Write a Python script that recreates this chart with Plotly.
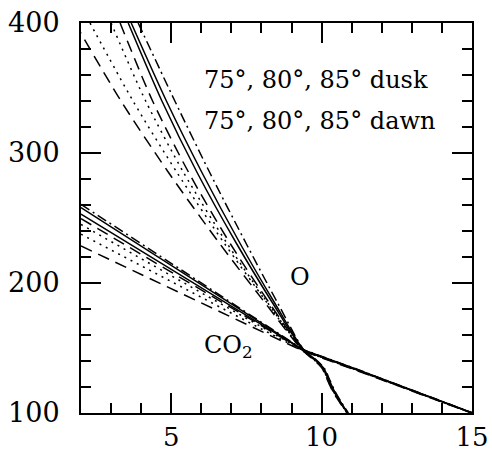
import plotly.graph_objects as go

# ---------------- data ----------------
# O profiles: x (log density) at shared altitude levels
o_y = [400, 340, 285, 230, 185, 148, 141.5, 134.5, 126, 117, 108.5, 100]
o_x_dashdot = [3.90, 5.12, 6.28, 7.50, 8.53, 9.43, 9.79, 10.09, 10.26, 10.44, 10.65, 10.89]
o_x_solid1  = [3.67, 4.84, 6.02, 7.30, 8.43, 9.42, 9.77, 10.07, 10.24, 10.42, 10.63, 10.87]
o_x_solid2  = [3.57, 4.69, 5.86, 7.18, 8.36, 9.40, 9.75, 10.05, 10.22, 10.40, 10.62, 10.86]
o_x_dash1   = [3.30, 4.38, 5.58, 6.97, 8.25, 9.40, 9.74, 10.04, 10.21, 10.39, 10.61, 10.86]
o_x_dot1    = [3.00, 4.15, 5.41, 6.87, 8.20, 9.39, 9.73, 10.03, 10.20, 10.38, 10.61, 10.85]
o_x_dot2    = [2.30, 3.73, 5.19, 6.78, 8.18, 9.38, 9.72, 10.02, 10.19, 10.37, 10.60, 10.85]
o_x_dash2   = [1.80, 3.33, 4.91, 6.62, 8.11, 9.37, 9.71, 10.01, 10.18, 10.36, 10.59, 10.84]

# CO2 profiles: altitude at shared log-density levels
co2_x = [2, 5.5, 9.4, 11, 13, 15]
co2_y_dashdot = [260.5, 207.3, 148.6, 135.2, 117.9, 100.3]
co2_y_solid1  = [258.0, 206.0, 148.4, 135.0, 117.7, 100.2]
co2_y_solid2  = [253.0, 203.3, 148.2, 134.8, 117.6, 100.1]
co2_y_dash1   = [249.5, 201.5, 148.0, 134.6, 117.4, 100.0]
co2_y_dot1    = [245.0, 199.1, 147.9, 134.4, 117.3, 100.0]
co2_y_dot2    = [237.5, 195.2, 147.7, 134.3, 117.2, 99.9]
co2_y_dash2   = [228.5, 190.4, 147.5, 134.1, 117.0, 99.8]

legend_lines = ["75°, 80°, 85° dusk", "75°, 80°, 85° dawn"]
x_tick_vals = [5, 10, 15]
y_tick_vals = [100, 200, 300, 400]

# ---------------- styles ----------------
DASHDOT = "10px,4px,2px,4px"
DASH = "12px,7px"
DOT = "2px,5px"
SOLID = "solid"

o_series = [
    (o_x_dashdot, DASHDOT), (o_x_solid1, SOLID), (o_x_solid2, SOLID),
    (o_x_dash1, DASH), (o_x_dot1, DOT), (o_x_dot2, DOT), (o_x_dash2, DASH),
]
co2_series = [
    (co2_y_dashdot, DASHDOT), (co2_y_solid1, SOLID), (co2_y_solid2, SOLID),
    (co2_y_dash1, DASH), (co2_y_dot1, DOT), (co2_y_dot2, DOT), (co2_y_dash2, DASH),
]

fig = go.Figure()
for xs, dash in o_series:
    fig.add_trace(go.Scatter(x=xs, y=o_y, mode="lines",
                             line=dict(color="black", width=1.5, dash=dash, shape="spline", smoothing=0.8),
                             showlegend=False, hoverinfo="skip"))
for ys, dash in co2_series:
    fig.add_trace(go.Scatter(x=co2_x, y=ys, mode="lines",
                             line=dict(color="black", width=1.5, dash=dash),
                             showlegend=False, hoverinfo="skip"))

FONT = "DejaVu Serif"

for i, t in enumerate(legend_lines):
    fig.add_annotation(x=6.03, y=[356, 325][i], text=t, showarrow=False,
                       xanchor="left", yanchor="middle",
                       font=dict(family=FONT, size=24, color="black"))
fig.add_annotation(x=9.27, y=205, text="O", showarrow=False,
                   xanchor="center", yanchor="middle",
                   font=dict(family=FONT, size=24, color="black"))
fig.add_annotation(x=6.02, y=151, text="CO<sub>2</sub>", showarrow=False,
                   xanchor="left", yanchor="middle",
                   font=dict(family=FONT, size=24, color="black"))

axis_common = dict(showgrid=False, zeroline=False, showline=True, linecolor="black",
                   linewidth=2, mirror="ticks", ticks="inside", ticklen=20, tickwidth=1.5,
                   tickcolor="black", automargin=False)

fig.update_xaxes(range=[2, 15], tickvals=x_tick_vals,
                 minor=dict(dtick=1, tick0=0, ticks="inside", ticklen=10, tickwidth=1.5, tickcolor="black"),
                 ticklabelstandoff=0, tickfont=dict(family=FONT, size=26, color="black"),
                 **axis_common)
fig.update_yaxes(range=[100, 400], tickvals=y_tick_vals,
                 minor=dict(dtick=20, tick0=0, ticks="inside", ticklen=10, tickwidth=1.5, tickcolor="black"),
                 ticklabelstandoff=14, tickfont=dict(family=FONT, size=27, color="black"),
                 **axis_common)

fig.update_layout(width=492, height=453, margin=dict(l=81, r=20, t=23, b=40),
                  plot_bgcolor="white", paper_bgcolor="white", showlegend=False)

fig.write_html("out.html")
